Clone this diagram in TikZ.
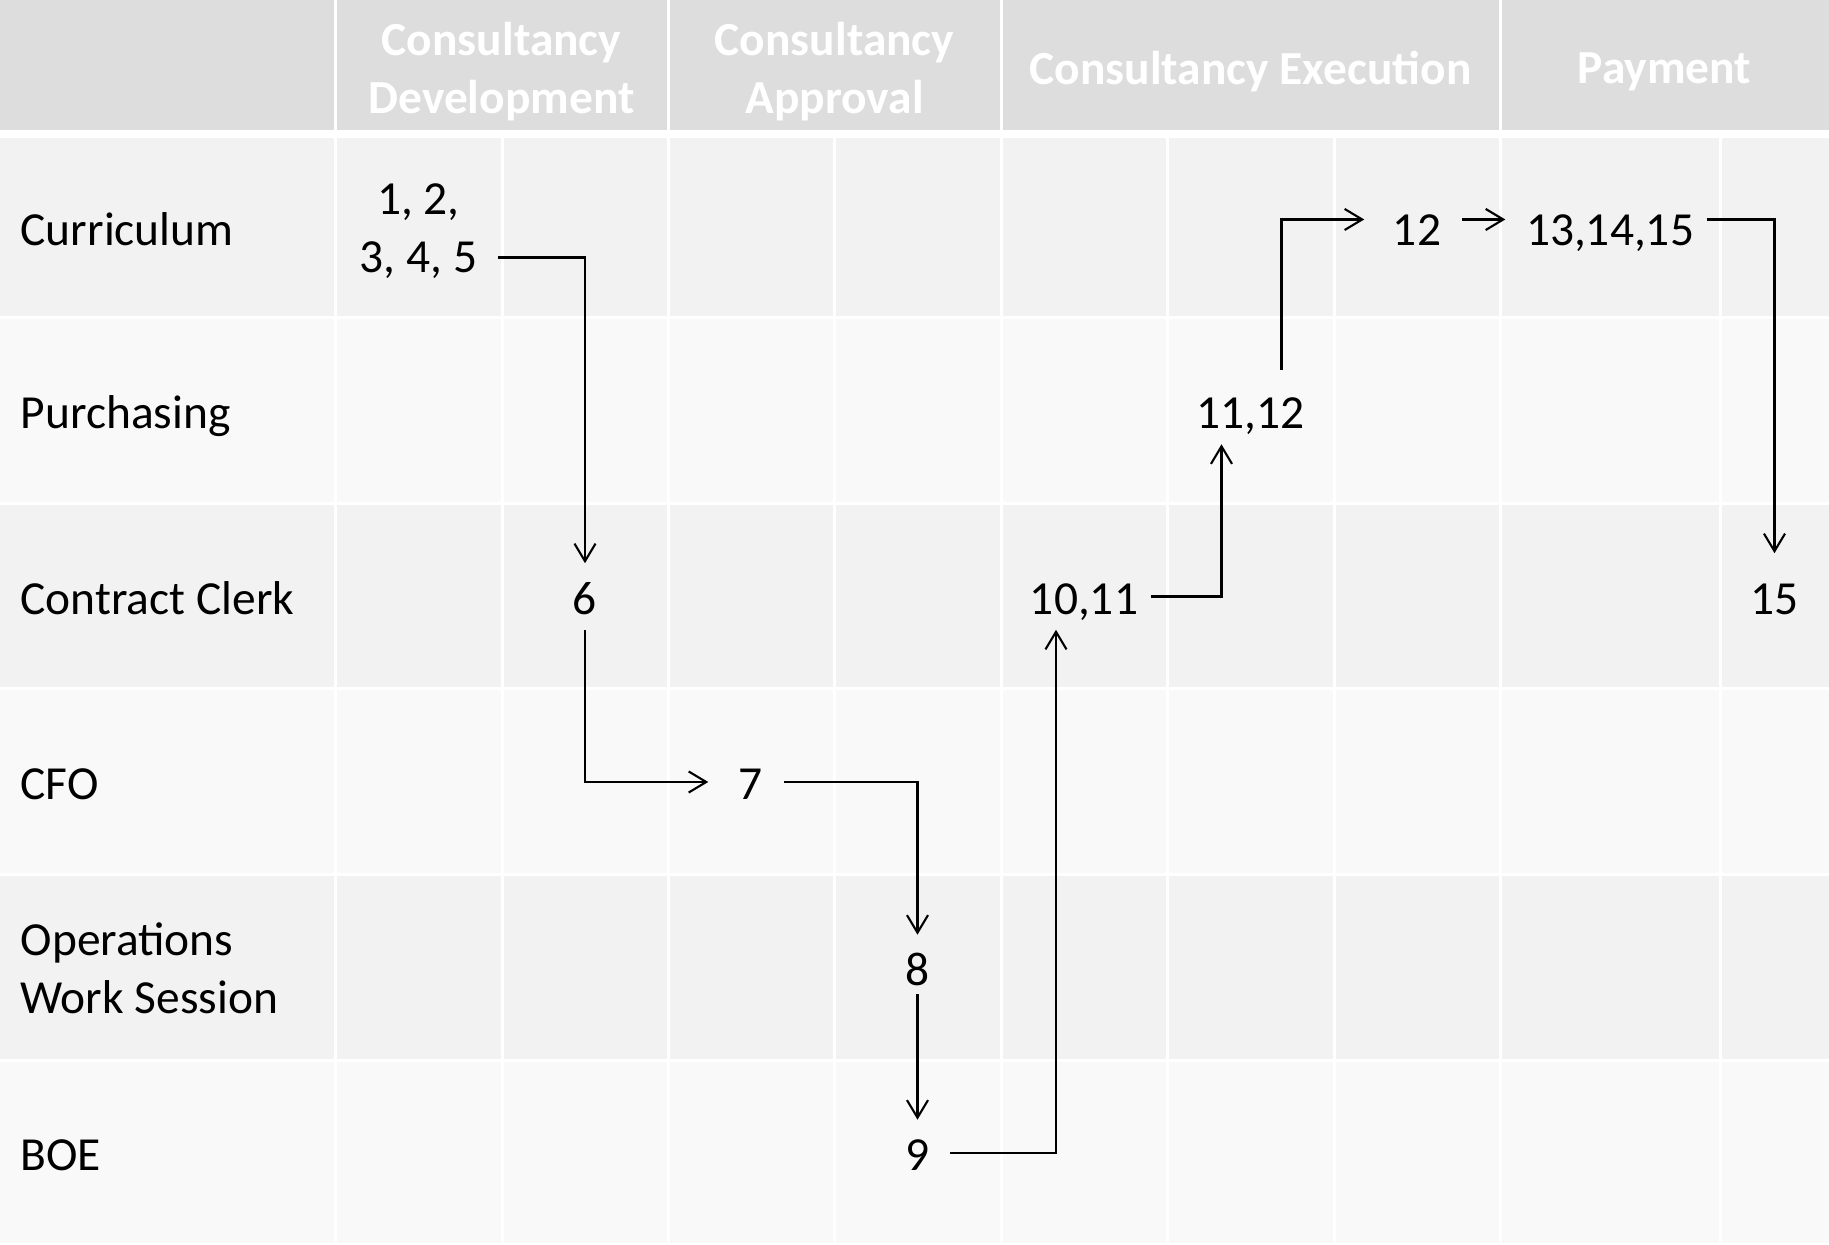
\documentclass[tikz,border=0pt]{standalone}
\usepackage{fontspec}
\setmainfont{Carlito}
\usetikzlibrary{arrows.meta}

\definecolor{headgray}{HTML}{DDDDDD}
\definecolor{rowdark}{HTML}{F2F2F2}
\definecolor{rowlight}{HTML}{F9F9F9}

\begin{document}
\begin{tikzpicture}[x=1cm, y=-1cm,
    txt/.style={font=\fontsize{13.5}{16.5}\selectfont},
    oneline/.style={text height=10pt, text depth=0pt},
    lane/.style={txt, anchor=west, inner sep=0pt, align=left},
    phase/.style={txt, font=\fontsize{13.5}{16.5}\selectfont\bfseries, text=white, align=center},
    stepnode/.style={txt, inner xsep=0.2cm, inner ysep=0.15cm, align=center},
    flow/.style={-{Straight Barb[length=5pt,width=6pt]}, line width=0.6pt}]
  \useasboundingbox (0,0) rectangle (18.29,12.45);
  \fill[white] (0,0) rectangle (18.29,12.45);

  % header band with the four phases
  \fill[headgray] (0,0) rectangle (18.29,1.30);
  \foreach \x in {3.35,6.68,10.01,15.00}
    \draw[white, line width=0.03cm] (\x,0) -- (\x,1.30);
  \node[phase] (hdev)  at (5.015,0.72) {Consultancy\\Development};
  \node[phase] (happr) at (8.345,0.72) {Consultancy\\Approval};
  \node[phase] (hexec) at (12.505,0.72) {Consultancy Execution};
  \node[phase] (hpay)  at (16.645,0.72) {Payment};

  % swimlane rows, alternating shades
  \foreach \top/\bot/\shade in {1.37/3.18/rowdark, 3.18/5.04/rowlight, 5.04/6.89/rowdark,
                                6.89/8.75/rowlight, 8.75/10.61/rowdark, 10.61/12.45/rowlight}
    \fill[\shade] (0,\top+0.015) rectangle (18.29,\bot-0.015);
  \foreach \x in {3.35,5.02,6.68,8.34,10.01,11.67,13.34,15.00,17.20}
    \draw[white, line width=0.03cm] (\x,1.37) -- (\x,12.45);

  % lane names
  \foreach \name/\y/\who in {curr/2.275/Curriculum, purch/4.11/Purchasing, clerk/5.965/Contract Clerk,
                             cfo/7.82/CFO, boe/11.53/BOE}
    \node[lane, oneline] (\name) at (0.2,\y) {\who};
  \node[lane] (ops) at (0.2,9.68) {Operations\\Work Session};

  % numbered steps
  \node[stepnode] (s1) at (4.185,2.315) {1, 2,\\3, 4, 5};
  \foreach \name/\x/\y/\num in {s6/5.85/5.965/6, s7/7.51/7.82/7, s8/9.175/9.68/8, s9/9.175/11.53/9,
                                s10/10.84/5.965/{10,11}, s11/12.505/4.11/{11,12}, s12/14.17/2.275/12,
                                s13/16.10/2.275/{13,14,15}, s15/17.745/5.965/15}
    \node[stepnode, oneline] (\name) at (\x,\y) {\num};

  \draw[flow] ([yshift=-0.26cm]s1.east) -| (s6.north);
  \draw[flow] (s6.south) |- ([xshift=-0.1cm]s7.west);
  \draw[flow] (s7.east) -| (s8.north);
  \draw[flow] ([yshift=0.07cm]s8.south) -- (s9.north);
  \draw[flow] (s9.east) -| ([xshift=-0.28cm]s10.south);
  \draw[flow] ([xshift=-0.08cm]s10.east) -| ([xshift=-0.29cm]s11.south);
  \draw[flow] ([xshift=0.31cm, yshift=0.08cm]s11.north) |- ([xshift=-0.08cm, yshift=0.08cm]s12.west);
  \draw[flow] ([yshift=0.08cm]s12.east) -- ([yshift=0.08cm]s13.west);
  \draw[flow] ([xshift=-0.08cm, yshift=0.08cm]s13.east) -| ([yshift=0.1cm]s15.north);
\end{tikzpicture}
\end{document}
